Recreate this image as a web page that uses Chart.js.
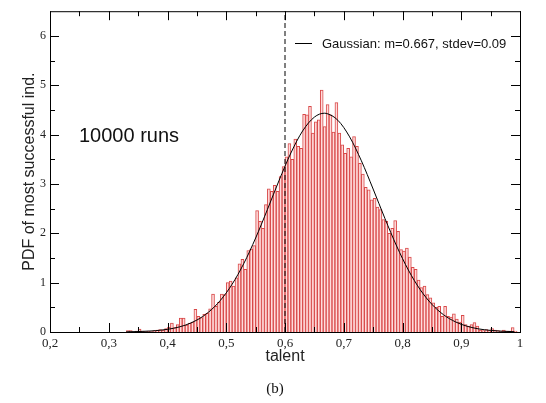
<!DOCTYPE html>
<html>
<head>
<meta charset="utf-8">
<script src="https://cdn.jsdelivr.net/npm/chart.js@4.4.1/dist/chart.umd.min.js"></script>
<style>
  html, body { margin: 0; padding: 0; background: #fff; }
  #wrap { width: 546px; height: 403px; position: relative; }
</style>
</head>
<body>
<div id="wrap"><canvas id="myChart"></canvas></div>
<script>
// histogram bins (centers start at binStart, width binWidth)
const binStart = 0.3325;
const binWidth = 0.005;
const pdfValues = [
  0.03, 0.03, 0.0, 0.02, 0.06, 0.02, 0.01, 0.02, 0.01, 0.03,
  0.04, 0.05, 0.04, 0.07, 0.1, 0.18, 0.09, 0.15, 0.28, 0.28,
  0.14, 0.18, 0.2, 0.46, 0.32, 0.29, 0.36, 0.38, 0.47, 0.77,
  0.52, 0.6, 0.77, 0.76, 1.0, 1.03, 0.93, 1.1, 1.38, 1.47,
  1.27, 1.65, 1.68, 1.75, 2.46, 2.24, 2.1, 2.58, 2.9, 2.85,
  2.97, 2.85, 3.15, 3.35, 3.55, 3.82, 3.5, 3.91, 3.76, 3.72,
  4.41, 4.4, 4.57, 4.03, 4.26, 4.3, 4.9, 4.16, 4.61, 4.4,
  4.05, 4.65, 4.03, 3.79, 3.62, 3.72, 3.55, 3.96, 3.76, 3.42,
  3.2, 2.93, 2.88, 2.68, 2.71, 2.53, 2.48, 2.28, 2.24, 2.0,
  2.1, 2.26, 2.04, 1.67, 1.64, 1.7, 1.52, 1.31, 1.27, 1.05,
  0.9, 0.93, 0.76, 0.69, 0.59, 0.5, 0.52, 0.32, 0.52, 0.32,
  0.3, 0.37, 0.26, 0.2, 0.34, 0.15, 0.12, 0.15, 0.19, 0.12,
  0.04, 0.03, 0.05, 0.03, 0.07, 0.04, 0.03, 0.02, 0.04, 0.02,
  0.02, 0.09, 0.02
];

// gaussian fit
const gaussX = [0.33, 0.35, 0.37, 0.39, 0.41, 0.43, 0.45, 0.47, 0.49, 0.51, 0.53, 0.55, 0.57, 0.59, 0.61, 0.63, 0.65, 0.667,
  0.67, 0.69, 0.71, 0.73, 0.75, 0.77, 0.79, 0.81, 0.83, 0.85, 0.87, 0.89, 0.91, 0.93, 0.95, 0.97, 0.99];
const gaussY = [0.004, 0.009, 0.019, 0.039, 0.075, 0.138, 0.242, 0.404, 0.641, 0.968, 1.391, 1.904, 2.48, 3.074, 3.627, 4.074, 4.354, 4.433,
  4.43, 4.29, 3.954, 3.469, 2.897, 2.303, 1.742, 1.255, 0.86, 0.561, 0.348, 0.206, 0.116, 0.062, 0.032, 0.015, 0.007];

const thresholdTalent = 0.6;
const xTickValues = [0.2, 0.3, 0.4, 0.5, 0.6, 0.7, 0.8, 0.9, 1.0];
const xTickLabels = ['0,2', '0,3', '0,4', '0,5', '0,6', '0,7', '0,8', '0,9', '1'];
const yTickValues = [0, 1, 2, 3, 4, 5, 6];
const xMinorTicks = [0.25, 0.35, 0.45, 0.55, 0.65, 0.75, 0.85, 0.95];
const yMinorTicks = [0.5, 1.5, 2.5, 3.5, 4.5, 5.5];

const histData = pdfValues.map((v, i) => ({ x: binStart + i * binWidth, y: v }));
const curveData = gaussX.map((x, i) => ({ x: x, y: gaussY[i] }));

const serif = '"Liberation Serif", "DejaVu Serif", serif';
const sans = '"Liberation Sans", Arial, sans-serif';

// frame with inward ticks, legend and annotations
const framePlugin = {
  id: 'frame',
  afterDraw(chart) {
    const ctx = chart.ctx;
    const a = chart.chartArea;
    const xs = chart.scales.x, ys = chart.scales.y;
    ctx.save();
    ctx.strokeStyle = '#000';
    ctx.lineWidth = 1;
    ctx.strokeRect(a.left + 0.5, a.top + 0.5, a.right - a.left, a.bottom - a.top);
    ctx.beginPath();
    const tickX = (v, len) => {
      const px = Math.round(xs.getPixelForValue(v)) + 0.5;
      ctx.moveTo(px, a.bottom); ctx.lineTo(px, a.bottom - len);
      ctx.moveTo(px, a.top); ctx.lineTo(px, a.top + len);
    };
    const tickY = (v, len) => {
      const py = Math.round(ys.getPixelForValue(v)) + 0.5;
      ctx.moveTo(a.left, py); ctx.lineTo(a.left + len, py);
      ctx.moveTo(a.right, py); ctx.lineTo(a.right - len, py);
    };
    xTickValues.forEach(v => tickX(v, 9));
    xMinorTicks.forEach(v => tickX(v, 5));
    yTickValues.forEach(v => tickY(v, 9));
    yMinorTicks.forEach(v => tickY(v, 5));
    ctx.stroke();

    // legend
    ctx.beginPath();
    ctx.moveTo(295, 43.5); ctx.lineTo(312, 43.5);
    ctx.stroke();
    ctx.fillStyle = '#111';
    ctx.font = '13px ' + sans;
    ctx.textBaseline = 'middle';
    ctx.textAlign = 'left';
    ctx.fillText('Gaussian: m=0.667, stdev=0.09', 322, 44);

    ctx.font = '20px ' + sans;
    ctx.textBaseline = 'alphabetic';
    ctx.fillText('10000 runs', 79, 142);

    ctx.font = '15px ' + serif;
    ctx.textAlign = 'center';
    ctx.textBaseline = 'middle';
    ctx.fillText('(b)', 275, 389);
    ctx.restore();
  }
};

const ctx = document.getElementById('myChart');
new Chart(ctx, {
  data: {
    datasets: [
      {
        type: 'line',
        label: 'Gaussian: m=0.667, stdev=0.09',
        data: curveData,
        borderColor: '#000',
        borderWidth: 1,
        pointRadius: 0,
        cubicInterpolationMode: 'monotone',
        order: 0
      },
      {
        type: 'line',
        label: 'threshold',
        data: [{ x: thresholdTalent, y: 0 }, { x: thresholdTalent, y: 6.5 }],
        borderColor: '#000',
        borderWidth: 1,
        borderDash: [5, 3],
        pointRadius: 0,
        order: 1
      },
      {
        type: 'bar',
        label: 'PDF',
        data: histData,
        backgroundColor: '#ffdcdc',
        borderColor: '#d84848',
        borderWidth: 1,
        barPercentage: 1,
        categoryPercentage: 1,
        order: 2
      }
    ]
  },
  options: {
    responsive: true,
    maintainAspectRatio: false,
    animation: false,
    layout: { padding: { top: 9, right: 26, left: 0, bottom: 0 } },
    plugins: {
      legend: { display: false },
      tooltip: { enabled: false }
    },
    scales: {
      x: {
        type: 'linear',
        offset: false,
        min: 0.2,
        max: 1.0,
        afterBuildTicks: (scale) => { scale.ticks = xTickValues.map(v => ({ value: v })); },
        afterFit: (scale) => { scale.height = 71; },
        ticks: {
          padding: 4,
          color: '#222',
          font: { family: serif, size: 13 },
          maxRotation: 0,
          autoSkip: false,
          callback: (v, i) => xTickLabels[i]
        },
        grid: { display: false, drawTicks: false, offset: false },
        border: { display: false },
        title: {
          display: true,
          text: 'talent',
          color: '#222',
          font: { family: sans, size: 16 },
          padding: { top: 0, bottom: 37 }
        }
      },
      y: {
        min: 0,
        max: 6.5,
        afterBuildTicks: (scale) => { scale.ticks = yTickValues.map(v => ({ value: v })); },
        afterFit: (scale) => { scale.width = 50; },
        ticks: {
          padding: 4,
          color: '#222',
          font: { family: serif, size: 12 },
          autoSkip: false
        },
        grid: { display: false, drawTicks: false },
        border: { display: false },
        title: {
          display: true,
          text: 'PDF of most successful ind.',
          color: '#222',
          font: { family: sans, size: 16 },
          padding: { top: 20, bottom: 0 }
        }
      }
    }
  },
  plugins: [framePlugin]
});
</script>
</body>
</html>
